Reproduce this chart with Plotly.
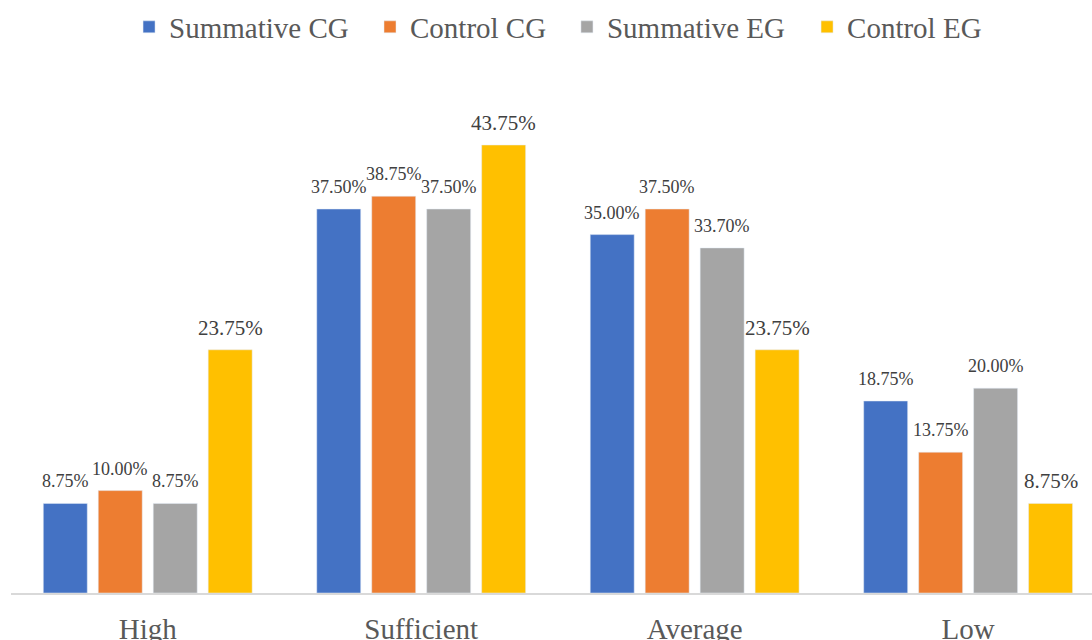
import plotly.graph_objects as go

categories = ["High", "Sufficient", "Average", "Low"]
series_names = ["Summative CG", "Control CG", "Summative EG", "Control EG"]
summative_cg = [8.75, 37.50, 35.00, 18.75]
control_cg = [10.00, 38.75, 37.50, 13.75]
summative_eg = [8.75, 37.50, 33.70, 20.00]
control_eg = [23.75, 43.75, 23.75, 8.75]
colors = ["#4472C4", "#ED7D31", "#A5A5A5", "#FFC000"]
label_sizes = [18, 18, 18, 21]
legend_ids = ["legend", "legend2", "legend3", "legend4"]
legend_x = [0.1092, 0.3321, 0.5143, 0.7364]

FONT = "Liberation Serif"
SLOT_PX = 55  # pixel pitch of bars within a group (style)

all_series = [summative_cg, control_cg, summative_eg, control_eg]

fig = go.Figure()
for name, vals, col, lid in zip(series_names, all_series, colors, legend_ids):
    fig.add_trace(go.Bar(
        name=name, x=categories, y=vals, marker_color=col,
        legend=lid, showlegend=True,
    ))

# value labels, placed above each bar
for i, (vals, size) in enumerate(zip(all_series, label_sizes)):
    for cat, v in zip(categories, vals):
        fig.add_annotation(
            x=cat, y=v, xref="x", yref="y", text=f"{v:.2f}%", showarrow=False,
            xanchor="center", yanchor="middle",
            xshift=(i - 1.5) * SLOT_PX, yshift=22,
            font=dict(family=FONT, size=size, color="#404040"),
        )

legends = {}
for lid, lx in zip(legend_ids, legend_x):
    legends[lid] = dict(orientation="h", x=lx, xanchor="left", y=1.1055, yanchor="middle",
                        font=dict(family=FONT, size=29, color="#595959"),
                        itemwidth=30, bgcolor="rgba(0,0,0,0)")

fig.update_layout(
    width=1092, height=640,
    showlegend=True,
    margin=dict(l=11, r=0, t=81, b=47, autoexpand=False),
    plot_bgcolor="white", paper_bgcolor="white",
    barmode="group", bargap=0.196, bargroupgap=0.2,
    font=dict(family=FONT, color="#595959"),
    xaxis=dict(range=[-0.5, 3.453], showline=True, linecolor="#D9D9D9", linewidth=2,
               ticks="", tickfont=dict(family=FONT, size=29, color="#595959"),
               ticklabelstandoff=9, showgrid=False, automargin=False),
    yaxis=dict(range=[0, 50], visible=False, showgrid=False, automargin=False),
    **legends,
)

fig.write_html("out.html", config={"displayModeBar": False},
               post_script="document.body.style.margin='0px';document.body.style.overflow='hidden';")
